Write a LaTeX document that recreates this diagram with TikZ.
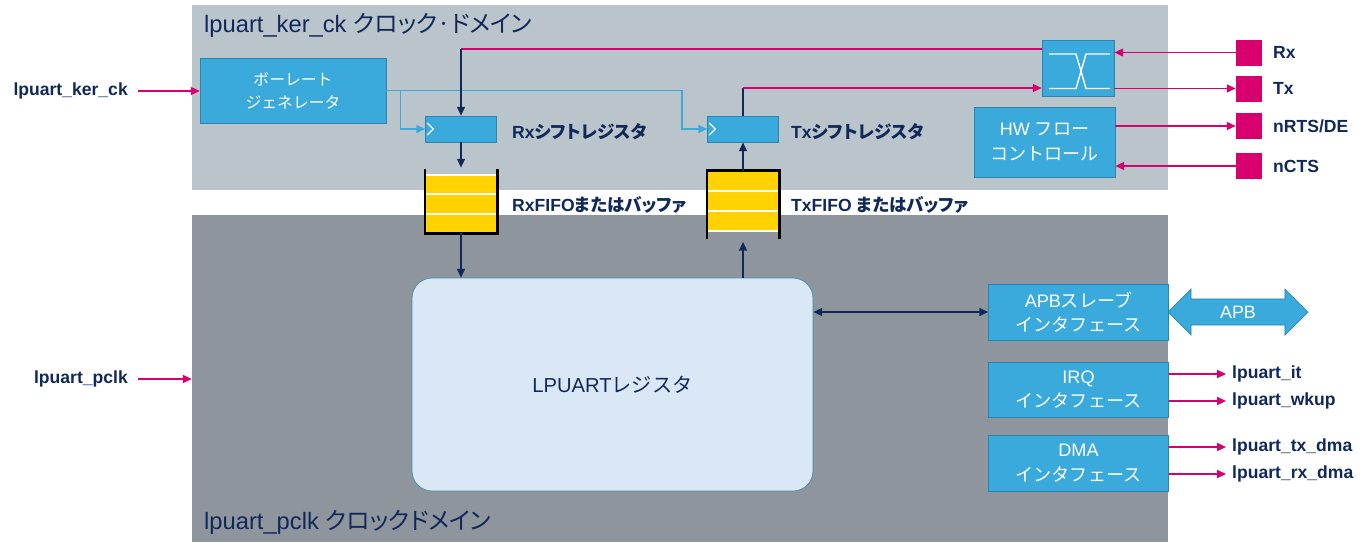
\documentclass[tikz,border=0pt]{standalone}
\usepackage{fontspec}
\setmainfont{Liberation Sans}
\newfontfamily\jp{Noto Sans CJK JP}
\newfontfamily\jpp{Noto Sans CJK JP}[RawFeature=+palt]
\usetikzlibrary{arrows.meta,calc,shapes.arrows}
\definecolor{topdom}{RGB}{186,196,203}
\definecolor{botdom}{RGB}{142,149,156}
\definecolor{boxblue}{RGB}{58,169,220}
\definecolor{boxedge}{RGB}{45,130,175}
\definecolor{pinkline}{RGB}{215,0,110}
\definecolor{navy}{RGB}{16,40,90}
\definecolor{regfill}{RGB}{218,232,245}
\definecolor{regedge}{RGB}{70,140,180}
\definecolor{fifoyellow}{RGB}{255,210,0}

\begin{document}
\begin{tikzpicture}[x=0.02cm, y=-0.02cm,
    >={Triangle[length=5pt,width=4.5pt]},
    blk/.style={draw=boxedge, fill=boxblue, text=white, align=center, inner sep=0pt,
        font=\fontsize{10.3}{14}\selectfont},
    pin/.style={fill=pinkline, minimum size=0.52cm, inner sep=0pt},
    lbl/.style={text=navy, font=\bfseries\fontsize{10}{12}\selectfont},
    pk/.style={draw=pinkline, line width=0.8pt},
    nv/.style={draw=navy, line width=0.8pt},
    lb/.style={draw=boxblue, line width=0.8pt},
    fifo/.style={fill=fifoyellow, minimum width=1.43cm, inner sep=0pt}]
    \useasboundingbox (0,0) rectangle (1371,542);

    % Clock domains
    \node[fill=topdom, minimum width=19.52cm, minimum height=3.7cm, inner sep=0pt] (kdom) at (680,97.5) {};
    \node[fill=botdom, minimum width=19.52cm, minimum height=6.54cm, inner sep=0pt] (pdom) at (680,378.5) {};
    \node[anchor=west, text=navy, font=\fontsize{13.5}{16}\selectfont] (ktitle) at (198,25) {lpuart\_ker\_ck {\jpp クロック·ドメイン}};
    \node[anchor=west, text=navy, font=\fontsize{13.5}{16}\selectfont] (ptitle) at (198,522) {lpuart\_pclk {\jpp クロックドメイン}};

    % Blocks
    \node[blk, minimum width=3.72cm, minimum height=1.3cm, font=\jp\fontsize{9}{13}\selectfont] (baud) at (293,90.5) {ボーレート\\ジェネレータ};
    \node[blk, minimum width=1.42cm, minimum height=0.52cm] (rxsr) at (461,129) {};
    \node[blk, minimum width=1.42cm, minimum height=0.52cm] (txsr) at (743,129) {};
    \node[blk, minimum width=1.44cm, minimum height=1.12cm] (sw) at (1078,68.5) {};
    \node[blk, minimum width=2.82cm, minimum height=1.4cm] (hwfc) at (1044.5,142) {HW {\jp フロー}\\{\jp コントロール}};
    \node[draw=regedge, fill=regfill, rounded corners=0.4cm, minimum width=8.02cm, minimum height=4.26cm,
        text=navy, font=\fontsize{11.5}{14}\selectfont] (reg) at (612.5,384.5) {LPUART{\jp レジスタ}};
    \node[blk, minimum width=3.6cm, minimum height=1.12cm] (apbif) at (1078.5,312) {APB{\jp スレーブ}\\{\jp インタフェース}};
    \node[blk, minimum width=3.6cm, minimum height=1.1cm] (irqif) at (1078.5,389.5) {IRQ\\{\jp インタフェース}};
    \node[blk, minimum width=3.6cm, minimum height=1.12cm] (dmaif) at (1078.5,463) {DMA\\{\jp インタフェース}};
    \node[double arrow, draw=boxedge, fill=boxblue, text=white, double arrow head extend=0.2cm,
        minimum height=2.8cm, minimum width=0.92cm, inner xsep=0pt, inner ysep=0.13cm,
        font=\fontsize{10.2}{12}\selectfont] (apbbus) at (1238,312) {APB};

    % FIFOs
    \node[fifo, minimum height=1.16cm] (rxfifo) at (461,204) {};
    \node[fifo, minimum height=1.2cm] (txfifo) at (743,201) {};
    \draw[white, line width=1pt] (rxfifo.north west) -- (rxfifo.north east)
        ($(rxfifo.north west)!1/3!(rxfifo.south west)$) -- ($(rxfifo.north east)!1/3!(rxfifo.south east)$)
        ($(rxfifo.north west)!2/3!(rxfifo.south west)$) -- ($(rxfifo.north east)!2/3!(rxfifo.south east)$);
    \draw[white, line width=1pt] (txfifo.south west) -- (txfifo.south east)
        ($(txfifo.north west)!1/3!(txfifo.south west)$) -- ($(txfifo.north east)!1/3!(txfifo.south east)$)
        ($(txfifo.north west)!2/3!(txfifo.south west)$) -- ($(txfifo.north east)!2/3!(txfifo.south east)$);
    \draw[line width=1.6pt] ($(rxfifo.north west)+(0,-6)$) -- (rxfifo.south west) -- (rxfifo.south east) -- ($(rxfifo.north east)+(0,-6)$);
    \draw[line width=1.6pt] ($(txfifo.south west)+(0,8)$) -- (txfifo.north west) -- (txfifo.north east) -- ($(txfifo.south east)+(0,8)$);

    % Clock marks and switch
    \foreach \sr in {rxsr,txsr}
        \draw[white, line width=0.7pt] ($(\sr.west)+(2,-6)$) -- ($(\sr.west)+(8,0)$) -- ($(\sr.west)+(2,6)$);
    \draw[white, line width=0.8pt] ($(sw.center)+(-29,-14.5)$) -- ($(sw.center)+(-2,-14.5)$) -- ($(sw.center)+(8,20)$) -- ($(sw.center)+(32,20)$);
    \draw[white, line width=0.8pt] ($(sw.center)+(-29,20)$) -- ($(sw.center)+(-2,20)$) -- ($(sw.center)+(8,-14.5)$) -- ($(sw.center)+(32,-14.5)$);

    % Pins
    \node[pin] (rxpin) at (1249,52.5) {};
    \node[pin] (txpin) at (1249,88.5) {};
    \node[pin] (rtspin) at (1249,126) {};
    \node[pin] (ctspin) at (1249,166) {};
    \node[lbl, anchor=west] (rxlbl) at (1267,52.5) {Rx};
    \node[lbl, anchor=west] (txlbl) at (1267,88.5) {Tx};
    \node[lbl, anchor=west] (rtslbl) at (1267,126) {nRTS/DE};
    \node[lbl, anchor=west] (ctslbl) at (1267,166) {nCTS};

    % Labels
    \node[lbl, anchor=west] (rxsrlbl) at (506,132) {Rx{\jpp シフトレジスタ}};
    \node[lbl, anchor=west] (txsrlbl) at (785,132) {Tx{\jpp シフトレジスタ}};
    \node[lbl, anchor=west] (rxfifolbl) at (506,205) {RxFIFO{\jpp またはバッファ}};
    \node[lbl, anchor=west] (txfifolbl) at (785,205) {TxFIFO {\jpp またはバッファ}};
    \node[lbl, anchor=east] (kerlbl) at (134,91) {lpuart\_ker\_ck};
    \node[lbl, anchor=east] (pclklbl) at (134,379) {lpuart\_pclk};
    \node[lbl, anchor=west] (itlbl) at (1226,374) {lpuart\_it};
    \node[lbl, anchor=west] (wkuplbl) at (1226,401) {lpuart\_wkup};
    \node[lbl, anchor=west] (txdmalbl) at (1226,447) {lpuart\_tx\_dma};
    \node[lbl, anchor=west] (rxdmalbl) at (1226,474) {lpuart\_rx\_dma};

    % Clock inputs
    \draw[pk, ->] ($(kerlbl.east)+(4,0)$) -- (kerlbl -| baud.west);
    \draw[pk, ->] ($(pclklbl.east)+(4,0)$) -- (pclklbl -| pdom.west);
    \draw[lb, ->] (baud.east) -| ($(txsr.west)+(-25,0)$) -- (txsr.west);
    \draw[lb, ->] ($(baud.east)+(14,0)$) |- (rxsr.west);

    % Data path
    \coordinate (swrx) at ($(sw.west)+(0,-19.5)$);
    \coordinate (swtx) at ($(sw.west)+(0,19.5)$);
    \draw[pk] (swrx) -- (swrx -| rxsr);
    \draw[nv, ->] (swrx -| rxsr) -- (rxsr.north);
    \draw[nv, ->, shorten >=4pt] (rxsr.south) -- (rxfifo.north);
    \draw[nv, ->] (rxfifo.south) -- (rxfifo.south |- reg.north);
    \draw[nv, ->, shorten >=6pt] (txfifo |- reg.north) -- (txfifo.south);
    \draw[nv, ->] (txfifo.north) -- (txsr.south);
    \draw[nv] (txsr.north) -- (txsr.north |- swtx);
    \draw[pk, ->] (txsr.north |- swtx) -- (swtx);
    \draw[nv, <->] (reg.east |- apbif) -- (apbif.west);

    % Pins and outputs
    \draw[pk, ->] (rxpin.west) -- (rxpin -| sw.east);
    \draw[pk, ->] (txpin -| sw.east) -- (txpin.west);
    \draw[pk, ->] (rtspin -| hwfc.east) -- (rtspin.west);
    \draw[pk, ->] (ctspin.west) -- (ctspin -| hwfc.east);
    \draw[pk, ->] (itlbl -| irqif.east) -- (itlbl.west);
    \draw[pk, ->] (wkuplbl -| irqif.east) -- (wkuplbl.west);
    \draw[pk, ->] (txdmalbl -| dmaif.east) -- (txdmalbl.west);
    \draw[pk, ->] (rxdmalbl -| dmaif.east) -- (rxdmalbl.west);
\end{tikzpicture}
\end{document}
